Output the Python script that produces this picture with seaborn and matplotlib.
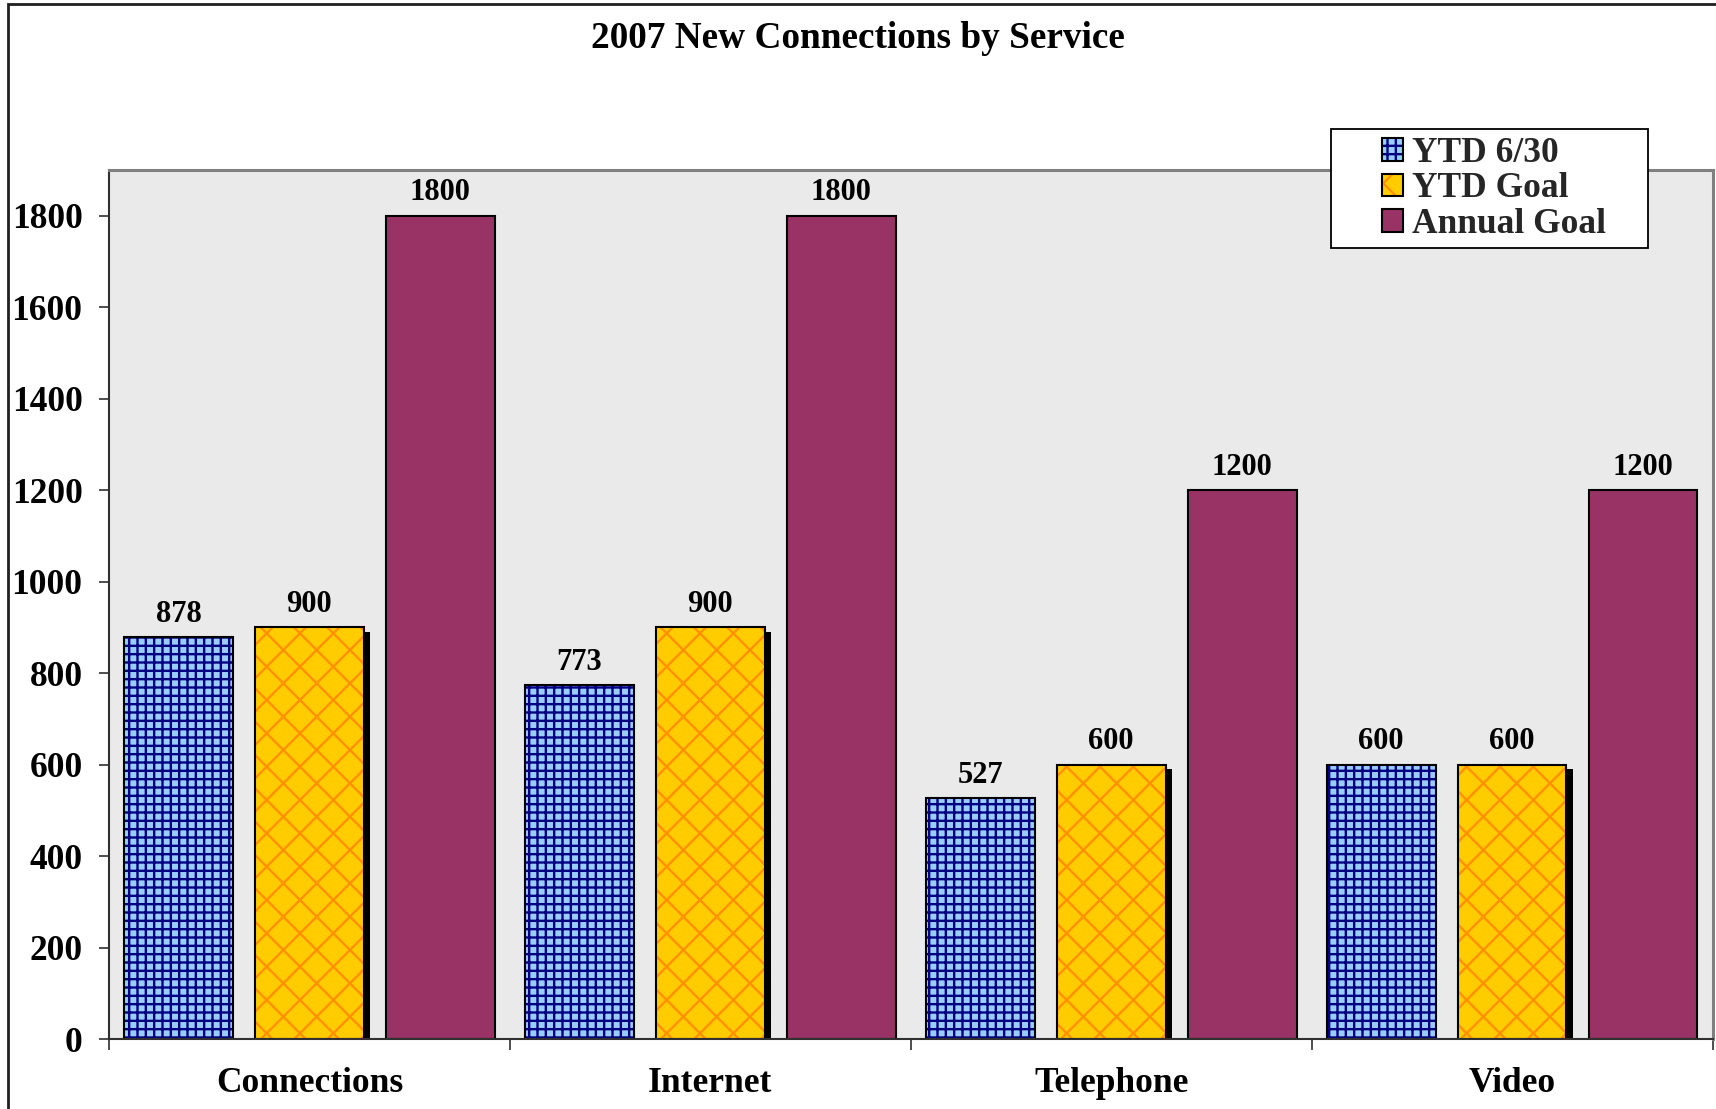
import matplotlib
matplotlib.use("Agg")
import matplotlib.pyplot as plt
import matplotlib.patheffects as pe
from matplotlib.colors import to_rgba
from matplotlib.patches import Rectangle
from matplotlib.ticker import FixedLocator
import seaborn as sns
import pandas as pd

# --- data -------------------------------------------------------------
services = ["Connections", "Internet", "Telephone", "Video"]
series_names = ["YTD 6/30", "YTD Goal", "Annual Goal"]
ytd_actual = [878, 773, 527, 600]
ytd_goal = [900, 900, 600, 600]
annual_goal = [1800, 1800, 1200, 1200]
y_ticks = [0, 200, 400, 600, 800, 1000, 1200, 1400, 1600, 1800]
title = "2007 New Connections by Service"

fills = ["#99CCFF", "#FFCC00", "#993366"]
hatches = ["++", "x", None]
hatch_colors = ["#000080", "#FF9000", None]

df = pd.DataFrame({
    "service": services * 3,
    "series": [series_names[0]] * 4 + [series_names[1]] * 4 + [series_names[2]] * 4,
    "value": ytd_actual + ytd_goal + annual_goal,
})

# --- style ------------------------------------------------------------
sns.set_theme(style="white")
plt.rcParams["font.family"] = ["Liberation Serif", "DejaVu Serif"]
plt.rcParams["font.weight"] = "bold"
plt.rcParams["hatch.linewidth"] = 1.7


class SolidShadow(pe.AbstractPathEffect):
    """Flat black drop shadow without the patch hatch."""

    def draw_path(self, renderer, gc, tpath, affine, rgbFace=None):
        gc0 = renderer.new_gc()
        gc0.copy_properties(gc)
        gc0.set_hatch(None)
        gc0.set_linewidth(0)
        renderer.draw_path(gc0, tpath, affine + self._offset_transform(renderer),
                           (0, 0, 0, 1))
        gc0.restore()


fig = plt.figure(figsize=(17.16, 11.09), dpi=100)
fig.patch.set_facecolor("white")
ax = fig.add_axes([0.0635, 0.0631, 0.9345, 0.7836])
ax.set_facecolor("#EAEAEA")

sns.barplot(data=df, x="service", y="value", hue="series",
            order=services, hue_order=series_names, palette=fills,
            saturation=1, width=0.98, gap=0.17, errorbar=None,
            edgecolor="black", linewidth=1.5, legend=False, ax=ax)

for i, cont in enumerate(ax.containers):
    for bar in cont.patches:
        bar.set_edgecolor("black")
        if hatches[i]:
            bar.set_hatch(hatches[i])
            bar._hatch_color = to_rgba(hatch_colors[i])
        if i == 1:
            bar.set_path_effects([SolidShadow(offset=(4.5, -3)), pe.Normal()])
    ax.bar_label(cont, fmt="%d", padding=6, fontsize=22, fontweight="bold",
                 color="black")

# --- axes -------------------------------------------------------------
ax.set_xlim(-0.5, len(services) - 0.5)
ax.set_ylim(0, 1900)
ax.set_yticks(y_ticks)
ax.set_xlabel("")
ax.set_ylabel("")
ax.xaxis.set_minor_locator(FixedLocator([k - 0.5 for k in range(len(services) + 1)]))
ax.tick_params(axis="x", which="major", length=0, pad=20, labelsize=25.5)
ax.tick_params(axis="x", which="minor", length=8, width=1.3, color="#404040",
               direction="out", bottom=True)
ax.tick_params(axis="y", which="major", length=7, width=1.3, color="#404040",
               direction="out", left=True, pad=12, labelsize=25.5)
for lab in ax.get_xticklabels() + ax.get_yticklabels():
    lab.set_fontweight("bold")
    lab.set_color("black")

for side in ["left", "bottom"]:
    ax.spines[side].set_color("#303030")
    ax.spines[side].set_linewidth(1.5)
for side in ["top", "right"]:
    ax.spines[side].set_color("#808080")
    ax.spines[side].set_linewidth(2.2)

# --- title ------------------------------------------------------------
fig.text(0.5, 1 - 39 / 1109, title, ha="center", va="center",
         fontsize=26.8, fontweight="bold", color="black")

# --- legend -----------------------------------------------------------
fig.patches.append(Rectangle((1331 / 1716, 1 - 248 / 1109), 317 / 1716, 119 / 1109,
                             transform=fig.transFigure, facecolor="white",
                             edgecolor="black", linewidth=1.3, zorder=4))
handles = [cont.patches[0] for cont in ax.containers]
leg = fig.legend(handles=handles, labels=series_names,
                 loc="upper left", bbox_to_anchor=(1382 / 1716, 1 - 137 / 1109),
                 frameon=False, borderpad=0, borderaxespad=0,
                 handlelength=0.6, handleheight=0.6, handletextpad=0.25,
                 labelspacing=0.07, prop={"size": 25.5, "weight": "bold"})
leg.set_zorder(5)
for h in leg.legend_handles:
    h.set_path_effects([])
    h.set_linewidth(1.5)

# outer frame of the figure
fig.patches.append(Rectangle((8 / 1716, -0.5), 2.0, 0.5 + 1 - 4 / 1109,
                             transform=fig.transFigure, fill=False,
                             edgecolor="#202020", linewidth=2, zorder=6))

fig.savefig("out.png", dpi=100)
